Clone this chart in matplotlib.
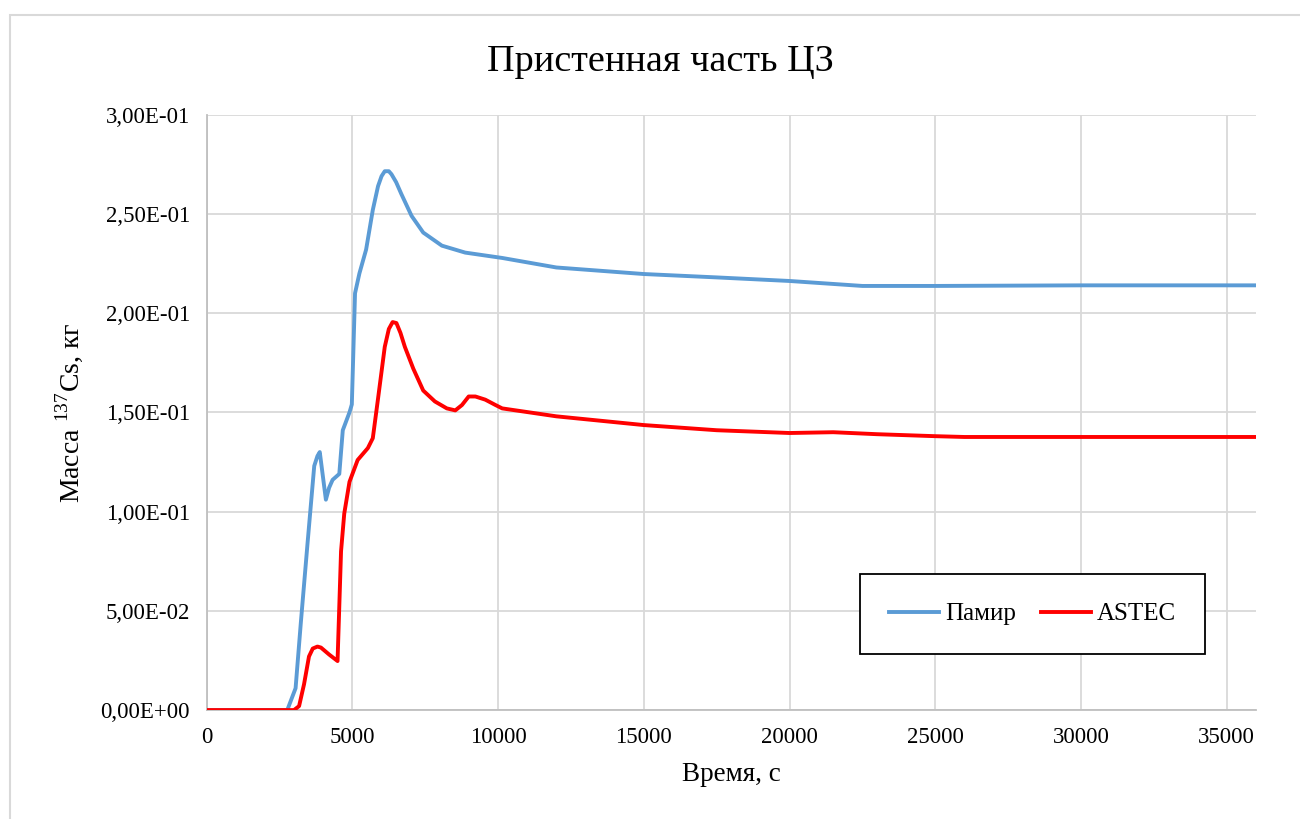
import numpy as np
import matplotlib
matplotlib.use('Agg')
from matplotlib import pyplot as plt
from matplotlib.ticker import MultipleLocator, FuncFormatter
from matplotlib.patches import Rectangle

# data
pamir_t = [0, 2500, 2765, 3050, 3230, 3460, 3690, 3800, 3880, 4090, 4200, 4320,
           4550, 4670, 4900, 4980, 5090, 5240, 5470, 5700, 5880, 6000, 6110,
           6250, 6340, 6500, 6680, 7030, 7430, 8070, 8870, 10140, 12000, 15000,
           17500, 20000, 22500, 25000, 30000, 36000]
pamir_m = [0, 0, 0, 0.011, 0.044, 0.084, 0.123, 0.128, 0.130, 0.106, 0.112,
           0.116, 0.119, 0.141, 0.150, 0.154, 0.210, 0.220, 0.232, 0.252, 0.264,
           0.269, 0.2715, 0.2715, 0.270, 0.266, 0.260, 0.249, 0.2406, 0.234,
           0.2305, 0.2278, 0.223, 0.2197, 0.218, 0.2162, 0.2137, 0.2137, 0.2140,
           0.2140]

astec_t = [0, 2900, 2995, 3170, 3340, 3510, 3640, 3800, 3920, 4200, 4490, 4610,
           4720, 4900, 5180, 5530, 5700, 5880, 6110, 6250, 6380, 6510, 6650,
           6800, 7090, 7430, 7830, 8240, 8530, 8760, 8990, 9220, 9560, 9910,
           10140, 12000, 15000, 17500, 20000, 21500, 23000, 25000, 26000, 36000]
astec_m = [0, 0, 0, 0.002, 0.013, 0.027, 0.031, 0.032, 0.0315, 0.028, 0.0247,
           0.080, 0.099, 0.115, 0.126, 0.132, 0.137, 0.157, 0.183, 0.192, 0.1955,
           0.195, 0.190, 0.183, 0.172, 0.161, 0.1555, 0.152, 0.151, 0.1537, 0.158,
           0.158, 0.1564, 0.1537, 0.152, 0.148, 0.1436, 0.141, 0.1396, 0.140,
           0.139, 0.138, 0.1376, 0.1376]

plt.rcParams['font.family'] = ['Liberation Serif', 'DejaVu Serif']
plt.rcParams['mathtext.fontset'] = 'custom'
plt.rcParams['mathtext.rm'] = 'Liberation Serif'

fig = plt.figure(figsize=(13, 8.19), dpi=100)
ax = fig.add_axes([0.159, 0.133, 0.807, 0.727])

# outer chart border
fig.patches.append(Rectangle((10 / 1300, -0.1), 1.2, 1.1 - 15 / 819,
                             transform=fig.transFigure, fill=False,
                             edgecolor='#d9d9d9', linewidth=1.5))

ax.plot(pamir_t, pamir_m, color='#5b9bd5', linewidth=2.8, label='Памир',
        zorder=3, solid_joinstyle='round')
ax.plot(astec_t, astec_m, color='#ff0000', linewidth=2.8, label='ASTEC',
        zorder=4, solid_joinstyle='round')

ax.set_xlim(0, 36000)
ax.set_ylim(0, 0.3)
ax.xaxis.set_major_locator(MultipleLocator(5000))
ax.yaxis.set_major_locator(MultipleLocator(0.05))
ax.yaxis.set_major_formatter(FuncFormatter(lambda v, p: f'{v:.2E}'.replace('.', ',')))

ax.grid(True, color='#d9d9d9', linewidth=1.3)
ax.set_axisbelow(True)
for side in ['top', 'right']:
    ax.spines[side].set_visible(False)
for side in ['left', 'bottom']:
    ax.spines[side].set_color('#bfbfbf')
    ax.spines[side].set_linewidth(1.3)
ax.tick_params(length=0, labelsize=16.5, pad=12)

fig.text(0.508, 0.924, 'Пристенная часть ЦЗ', fontsize=27.5,
         ha='center', va='center')
ax.set_xlabel('Время, с', fontsize=19.5, labelpad=10)
ax.set_ylabel('Масса $^{137}$Cs, кг', fontsize=20, labelpad=11)

leg = ax.legend(loc='center', bbox_to_anchor=(0.787, 0.161), ncol=2,
                fontsize=18, frameon=True, fancybox=False, framealpha=1,
                edgecolor='black', borderpad=1.15, handlelength=2.0,
                columnspacing=1.0, handletextpad=0.25)
leg.get_frame().set_linewidth(1.3)

plt.savefig('out.png', dpi=100)
